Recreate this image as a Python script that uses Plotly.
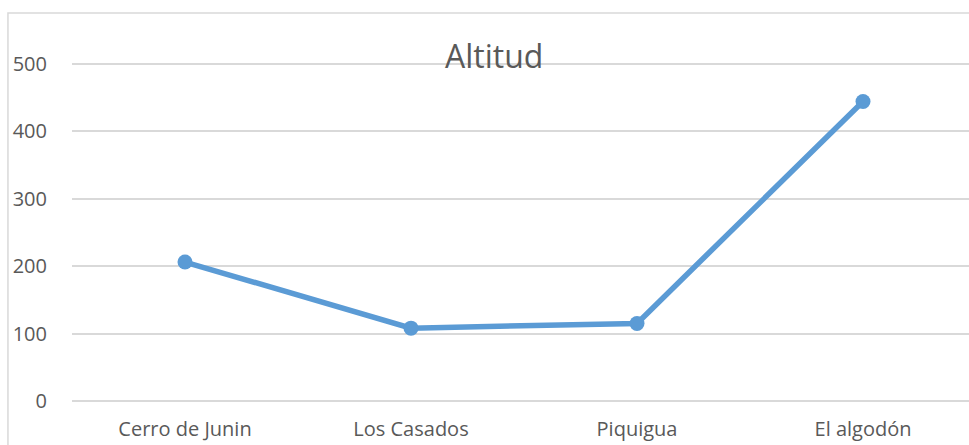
import plotly.graph_objects as go

# Altitude per locality (m)
localidades = ["Cerro de Junin", "Los Casados", "Piquigua", "El algodón"]
altitud = [206, 108, 115, 444]
y_ticks = [0, 100, 200, 300, 400, 500]

LINE_BLUE = "#5B9BD5"
TEXT_GREY = "#595959"
GRID_GREY = "#D9D9D9"
FONT = "Open Sans"

fig = go.Figure(
    go.Scatter(
        x=localidades,
        y=altitud,
        mode="lines+markers",
        line=dict(color=LINE_BLUE, width=5.5),
        marker=dict(color=LINE_BLUE, size=15),
        cliponaxis=False,
        showlegend=False,
    )
)

fig.update_layout(
    width=969,
    height=445,
    margin=dict(l=72, r=0, t=57, b=44),
    paper_bgcolor="white",
    plot_bgcolor="white",
    font=dict(family=FONT, size=20, color=TEXT_GREY),
    title=dict(
        text="Altitud",
        font=dict(family=FONT, size=32, color=TEXT_GREY),
        x=0.51,
        xanchor="center",
        y=0.873,
        yanchor="middle",
    ),
    xaxis=dict(
        type="category",
        range=[-0.5, 3.469],
        showgrid=False,
        showline=False,
        zeroline=False,
        ticks="",
        ticklabelstandoff=14,
        tickfont=dict(family=FONT, size=20, color=TEXT_GREY),
    ),
    yaxis=dict(
        range=[0, 510],
        tickvals=y_ticks,
        showgrid=True,
        gridcolor=GRID_GREY,
        gridwidth=1.5,
        zeroline=True,
        zerolinecolor=GRID_GREY,
        zerolinewidth=1.5,
        showline=False,
        ticks="",
        ticklabelstandoff=24,
        tickfont=dict(family=FONT, size=20, color=TEXT_GREY),
    ),
    shapes=[
        # chart frame
        dict(
            type="rect",
            xref="paper",
            yref="paper",
            x0=-0.0714,
            x1=1.2,
            y0=-0.3,
            y1=1.128,
            line=dict(color="#D9D9D9", width=1.5),
            fillcolor="rgba(0,0,0,0)",
            layer="below",
        )
    ],
)

fig.write_html("out.html")
